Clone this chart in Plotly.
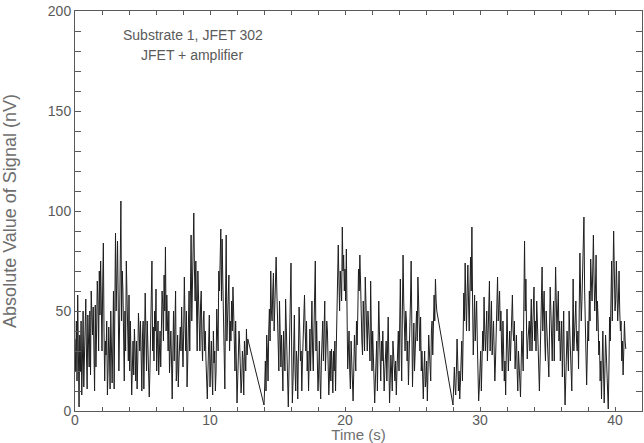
import plotly.graph_objects as go

# Segment start times (s) and sample step
seg_starts = [0.0, 14.0, 28.0]
dt = 0.05

seg1 = [36, 20, 45, 15, 58, 30, 2, 38, 20, 45, 8, 25, 50, 12, 30, 40, 56, 28, 11, 48,
        35, 22, 50, 18, 60, 45, 38, 52, 25, 10, 53, 22, 40, 65, 55, 30, 70, 48, 75, 40,
        30, 62, 84, 40, 15, 35, 28, 45, 8, 20, 42, 30, 11, 50, 25, 14, 33, 60, 11, 45,
        89, 50, 77, 85, 55, 20, 42, 80, 105, 45, 70, 60, 31, 15, 50, 30, 75, 55, 40, 25,
        58, 20, 45, 30, 8, 22, 35, 18, 41, 30, 15, 35, 11, 25, 49, 40, 30, 45, 19, 10,
        38, 45, 11, 30, 59, 40, 20, 45, 30, 15, 7, 20, 36, 55, 75, 30, 42, 25, 50, 40,
        61, 20, 35, 45, 18, 30, 40, 22, 45, 60, 53, 35, 68, 50, 82, 40, 58, 45, 30, 50,
        19, 30, 40, 25, 6, 30, 50, 25, 46, 60, 15, 20, 38, 12, 25, 35, 42, 30, 52, 35,
        22, 40, 67, 45, 30, 50, 12, 25, 46, 60, 30, 55, 88, 45, 65, 80, 99, 70, 55, 75,
        44, 30, 70, 52, 45, 30, 53, 60, 36, 25, 45, 50, 30, 40, 26, 15, 6, 20, 35, 48,
        12, 22, 35, 18, 8, 40, 24, 30, 10, 20, 51, 40, 30, 70, 60, 75, 91, 55, 86, 65,
        40, 28, 11, 55, 88, 35, 50, 60, 68, 30, 45, 35, 55, 40, 62, 50, 35, 20, 45, 20,
        4, 15, 25, 40, 33, 22, 9, 15, 30, 25, 8, 35, 30, 20, 41, 28, 36]

seg2 = [3, 12, 25, 10, 38, 30, 15, 40, 51, 35, 70, 50, 45, 60, 69, 40, 58, 65, 77, 60,
        45, 30, 20, 55, 40, 22, 38, 20, 10, 40, 30, 20, 56, 40, 25, 10, 2, 20, 40, 55,
        74, 30, 4, 15, 36, 48, 20, 10, 30, 25, 6, 35, 52, 40, 25, 30, 10, 25, 35, 45,
        58, 40, 30, 45, 20, 30, 10, 25, 41, 20, 45, 55, 30, 20, 40, 60, 75, 30, 45, 25,
        10, 20, 35, 15, 6, 25, 38, 45, 25, 35, 55, 20, 30, 45, 40, 20, 8, 18, 30, 15,
        31, 22, 9, 30, 20, 35, 10, 30, 49, 60, 83, 65, 50, 70, 65, 55, 92, 70, 78, 60,
        71, 55, 81, 45, 21, 30, 40, 20, 11, 35, 25, 15, 5, 20, 38, 28, 20, 45, 33, 50,
        71, 60, 78, 65, 45, 35, 28, 55, 45, 30, 67, 55, 40, 30, 50, 45, 35, 25, 65, 40,
        20, 40, 30, 15, 4, 15, 22, 35, 10, 30, 55, 40, 25, 15, 35, 25, 40, 25, 10, 20,
        30, 35, 15, 30, 47, 25, 4, 15, 28, 20, 10, 35, 28, 25, 15, 25, 8, 20, 33, 40,
        20, 45, 66, 35, 15, 50, 78, 55, 40, 30, 50, 45, 25, 35, 13, 25, 40, 55, 75, 50,
        12, 30, 44, 20, 30, 40, 50, 35, 67, 55, 38, 30, 47, 20, 30, 15, 6, 20, 30, 12,
        15, 25, 5, 20, 38, 30, 20, 15, 40, 45, 28, 40, 58, 45, 66, 55, 50]

seg3 = [3, 15, 22, 12, 8, 20, 36, 25, 10, 20, 6, 15, 25, 35, 15, 40, 59, 45, 74, 55,
        40, 60, 73, 55, 40, 60, 77, 60, 92, 55, 28, 40, 58, 35, 45, 55, 35, 20, 5, 12,
        20, 30, 10, 25, 40, 30, 57, 40, 30, 40, 50, 25, 35, 50, 65, 30, 45, 55, 28, 35,
        45, 30, 15, 25, 40, 50, 67, 45, 53, 60, 40, 50, 30, 20, 45, 35, 15, 25, 8, 30,
        51, 35, 20, 30, 40, 25, 35, 45, 58, 40, 35, 45, 21, 30, 38, 20, 10, 30, 25, 15,
        7, 20, 40, 30, 20, 55, 85, 50, 66, 40, 26, 35, 40, 45, 30, 45, 56, 30, 40, 50,
        62, 35, 45, 30, 55, 45, 30, 20, 10, 25, 40, 55, 72, 40, 50, 60, 35, 25, 50, 40,
        30, 25, 17, 40, 62, 50, 35, 25, 45, 55, 25, 40, 72, 55, 40, 50, 60, 35, 45, 25,
        35, 45, 17, 30, 50, 20, 3, 15, 25, 40, 30, 20, 50, 40, 30, 20, 10, 35, 66, 30,
        40, 45, 55, 35, 30, 40, 21, 50, 79, 60, 45, 55, 70, 80, 97, 60, 40, 25, 13, 30,
        45, 35, 60, 45, 76, 65, 55, 70, 88, 65, 50, 60, 78, 40, 55, 45, 28, 35, 15, 25,
        6, 25, 40, 20, 4, 20, 38, 30, 20, 10, 1, 20, 47, 35, 60, 75, 45, 65, 90, 70,
        50, 55, 75, 60, 45, 55, 70, 50, 40, 45, 25, 35, 18, 30, 45, 35, 31]

segments = [seg1, seg2, seg3]

times, values = [], []
for start, seg in zip(seg_starts, segments):
    for i, v in enumerate(seg):
        times.append(round(start + i * dt, 3))
        values.append(v)

x_title = "Time (s)"
y_title = "Absolute Value of Signal (nV)"
label1 = "Substrate 1, JFET 302"
label2 = "JFET + amplifier"

axis_col = "#5a5a5a"
title_col = "#6e6e6e"
font = dict(family="Liberation Sans, Arial, sans-serif", size=14, color=axis_col)
ytitle_font = dict(family="Liberation Sans, Arial, sans-serif", size=18, color=title_col)
xtitle_font = dict(family="Liberation Sans, Arial, sans-serif", size=15, color=title_col)

fig = go.Figure()
fig.add_trace(go.Scatter(x=times, y=values, mode="lines",
                         line=dict(color="#1e1e1e", width=1), showlegend=False))

fig.update_layout(
    width=644, height=443,
    margin=dict(l=75, r=2, t=11, b=32, autoexpand=False),
    paper_bgcolor="white", plot_bgcolor="white",
    font=font,
    annotations=[
        dict(x=8.74, y=188, xref="x", yref="y", text=label1, showarrow=False,
             xanchor="center", yanchor="middle", font=font),
        dict(x=8.67, y=178, xref="x", yref="y", text=label2, showarrow=False,
             xanchor="center", yanchor="middle", font=font),
    ],
)
fig.update_xaxes(range=[0, 42], showgrid=False, zeroline=False, automargin=False,
                 showline=True, linecolor=axis_col, linewidth=1, mirror="ticks",
                 ticks="inside", ticklen=4, tickcolor=axis_col, dtick=10, tick0=0,
                 ticklabelstandoff=-4,
                 minor=dict(ticks="inside", ticklen=4, dtick=2, tickcolor=axis_col, showgrid=False),
                 title=dict(text=x_title, standoff=4, font=xtitle_font))
fig.update_yaxes(range=[0, 200], showgrid=False, zeroline=False, automargin=False,
                 showline=True, linecolor=axis_col, linewidth=1, mirror="ticks",
                 ticks="inside", ticklen=6, tickcolor=axis_col, dtick=50, tick0=0,
                 minor=dict(ticks="inside", ticklen=6, dtick=10, tickcolor=axis_col, showgrid=False),
                 title=dict(text=y_title, standoff=38, font=ytitle_font))

fig.write_html("out.html", config={"displayModeBar": False},
               post_script="document.body.style.margin='0';document.body.style.padding='0';")
